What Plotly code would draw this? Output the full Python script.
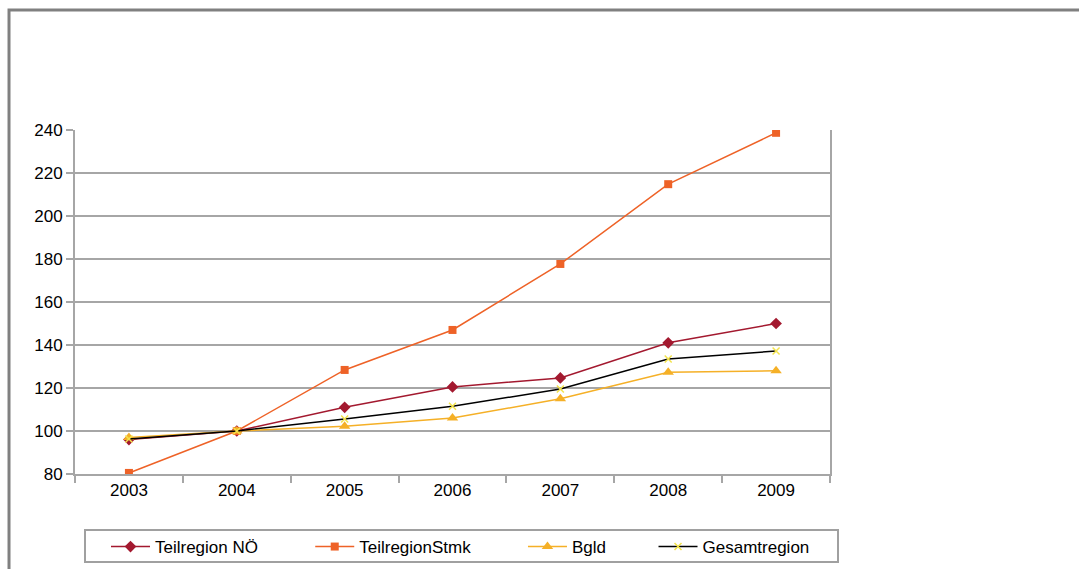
import plotly.graph_objects as go

years = ["2003", "2004", "2005", "2006", "2007", "2008", "2009"]
teilregion_noe = [96, 100, 111, 120.5, 124.7, 141, 150]
teilregion_stmk = [80.5, 100, 128.4, 147, 177.7, 214.8, 238.7]
bgld = [97, 100, 102.2, 106, 115, 127.3, 128]
gesamtregion = [96.3, 100, 105.6, 111.5, 119.5, 133.5, 137.2]

series = [
    ("Teilregion NÖ", teilregion_noe, "#A3192F", "diamond", 9),
    ("TeilregionStmk", teilregion_stmk, "#EE6227", "square", 8),
    ("Bgld", bgld, "#F5B027", "triangle-up", 10),
    ("Gesamtregion", gesamtregion, "#000000", "x-thin", 7),
]

# non-breaking spaces widen each legend entry
pads = [10, 10, 9, 0]

fig = go.Figure()
for (name, vals, color, symbol, size), n_pad in zip(series, pads):
    if symbol == "x-thin":
        marker = dict(symbol=symbol, size=size, color="#F3E34C",
                      line=dict(color="#F3E34C", width=1.5))
    else:
        marker = dict(symbol=symbol, size=size, color=color)
    fig.add_trace(go.Scatter(
        x=years, y=vals, name=name + "\u00a0" * n_pad, mode="lines+markers",
        line=dict(color=color, width=1.5), marker=marker,
    ))

fig.update_layout(
    width=1079, height=569,
    margin=dict(l=75, r=249, t=130, b=95),
    paper_bgcolor="white", plot_bgcolor="white",
    font=dict(family="Liberation Sans, Arial, sans-serif", size=17, color="#000000"),
    showlegend=True,
    legend=dict(
        orientation="h", xref="container", yref="container",
        x=106 / 1079, y=1 - 547 / 569, xanchor="left", yanchor="middle",
        bgcolor="rgba(0,0,0,0)", borderwidth=0, font=dict(size=17),
        itemwidth=39,
    ),
    xaxis=dict(
        type="category", range=[-0.5, 6.5], showgrid=False, showline=True,
        linecolor="#A6A6A6", linewidth=2, ticks="outside", tickson="boundaries",
        ticklen=7, tickcolor="#A6A6A6", tickwidth=2, mirror=False, automargin=False,
    ),
    yaxis=dict(
        range=[80, 240], dtick=20, showgrid=True, gridcolor="#A6A6A6",
        gridwidth=1.5, showline=True, linecolor="#A6A6A6", linewidth=2,
        mirror=True, ticks="outside", ticklen=7, tickcolor="#A6A6A6",
        tickwidth=2, zeroline=False, automargin=False,
    ),
    shapes=[
        # outer chart frame
        dict(type="rect", xref="paper", yref="paper",
             x0=-0.0874, x1=1.35, y0=-0.35, y1=1.349,
             line=dict(color="#808080", width=3), fillcolor="rgba(0,0,0,0)"),
        # legend box
        dict(type="rect", xref="paper", yref="paper",
             x0=(85 - 75) / 755, x1=(838 - 75) / 755,
             y0=(474 - 562) / 344, y1=(474 - 530) / 344,
             line=dict(color="#A0A0A0", width=2), fillcolor="rgba(0,0,0,0)"),
    ],
)

fig.write_html("out.html")
